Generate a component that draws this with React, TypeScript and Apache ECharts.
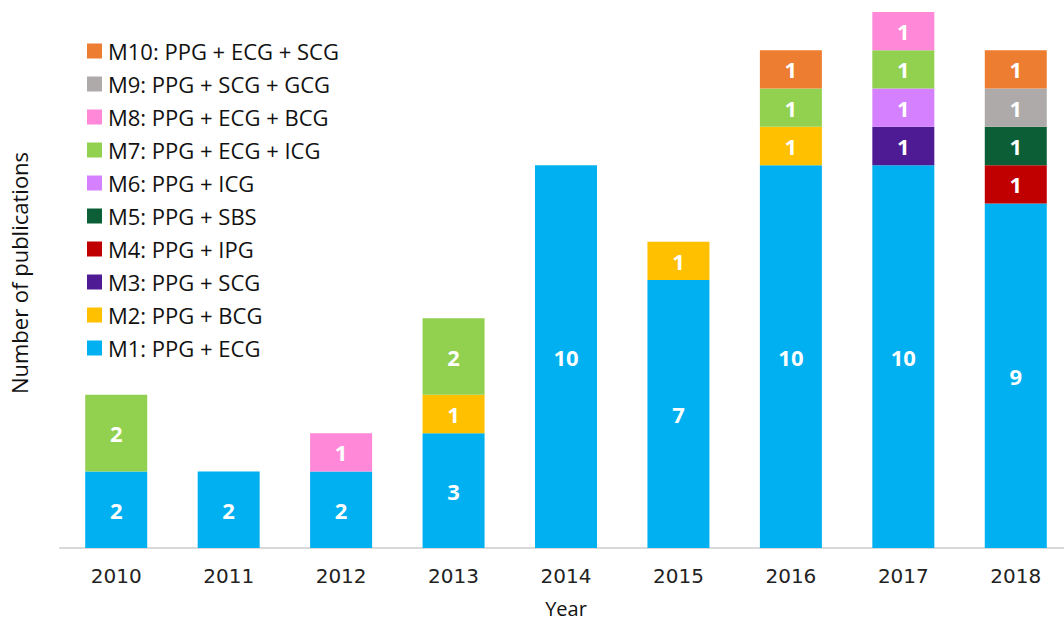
import React, { useEffect, useRef } from "react";
import * as echarts from "echarts";

const years = ["2010", "2011", "2012", "2013", "2014", "2015", "2016", "2017", "2018"];
const seriesNames = [
  "M1: PPG + ECG",
  "M2: PPG + BCG",
  "M3: PPG + SCG",
  "M4: PPG + IPG",
  "M5: PPG + SBS",
  "M6: PPG + ICG",
  "M7: PPG + ECG + ICG",
  "M8: PPG + ECG + BCG",
  "M9: PPG + SCG + GCG",
  "M10: PPG + ECG + SCG",
];
const m1 = [2, 2, 2, 3, 10, 7, 10, 10, 9];
const m2 = [0, 0, 0, 1, 0, 1, 1, 0, 0];
const m3 = [0, 0, 0, 0, 0, 0, 0, 1, 0];
const m4 = [0, 0, 0, 0, 0, 0, 0, 0, 1];
const m5 = [0, 0, 0, 0, 0, 0, 0, 0, 1];
const m6 = [0, 0, 0, 0, 0, 0, 0, 1, 0];
const m7 = [2, 0, 0, 2, 0, 0, 1, 1, 0];
const m8 = [0, 0, 1, 0, 0, 0, 0, 1, 0];
const m9 = [0, 0, 0, 0, 0, 0, 0, 0, 1];
const m10 = [0, 0, 0, 0, 0, 0, 1, 0, 1];
const seriesData = [m1, m2, m3, m4, m5, m6, m7, m8, m9, m10];
const colors = [
  "#00B0F0",
  "#FFC000",
  "#4E1B94",
  "#C00000",
  "#0B5E35",
  "#D580FF",
  "#92D050",
  "#FF89D8",
  "#AEAAAA",
  "#ED7D31",
];

export default function App() {
  const ref = useRef<HTMLDivElement>(null);
  useEffect(() => {
    if (!ref.current) return;
    const chart = echarts.init(ref.current, undefined, { renderer: "svg" });
    const font = "Open Sans";
    chart.setOption({
      animation: false,
      backgroundColor: "#ffffff",
      grid: {
        left: 60,
        right: -8,
        top: 12,
        bottom: 74,
        containLabel: false,
        outerBoundsMode: "none",
      },
      legend: {
        orient: "vertical",
        left: 82,
        top: 35,
        itemWidth: 15,
        itemHeight: 15,
        itemGap: 11,
        data: seriesNames.slice().reverse(),
        icon: "rect",
        textStyle: { fontFamily: font, fontSize: 22, color: "#111111", padding: [0, 0, 0, 1] },
      },
      xAxis: {
        type: "category",
        data: years,
        axisTick: { show: false },
        axisLine: { lineStyle: { color: "#D9D9D9", width: 2 } },
        axisLabel: { fontFamily: "DejaVu Sans", fontSize: 20, color: "#222222", margin: 18 },
        name: "Year",
        nameLocation: "middle",
        nameGap: 50,
        nameTextStyle: { fontFamily: font, fontSize: 20, color: "#111111" },
      },
      yAxis: {
        type: "value",
        min: 0,
        max: 14,
        axisLabel: { show: false },
        splitLine: { show: false },
        axisLine: { show: false },
        axisTick: { show: false },
        name: "Number of publications",
        nameLocation: "middle",
        nameGap: 30,
        nameTextStyle: { fontFamily: font, fontSize: 22, color: "#111111", padding: [0, 0, 0, 14] },
      },
      series: seriesData.map((d, i) => ({
        name: seriesNames[i],
        type: "bar",
        stack: "total",
        barWidth: 62,
        data: d,
        itemStyle: { color: colors[i] },
        label: {
          show: true,
          position: "inside",
          color: "#ffffff",
          fontFamily: font,
          fontWeight: "bold",
          fontSize: 22,
          formatter: (p: any) => (p.value ? String(p.value) : ""),
        },
      })),
    });
    return () => chart.dispose();
  }, []);
  return (
    <div
      ref={ref}
      style={{ position: "fixed", left: 0, top: 0, width: 1064, height: 622 }}
    />
  );
}
